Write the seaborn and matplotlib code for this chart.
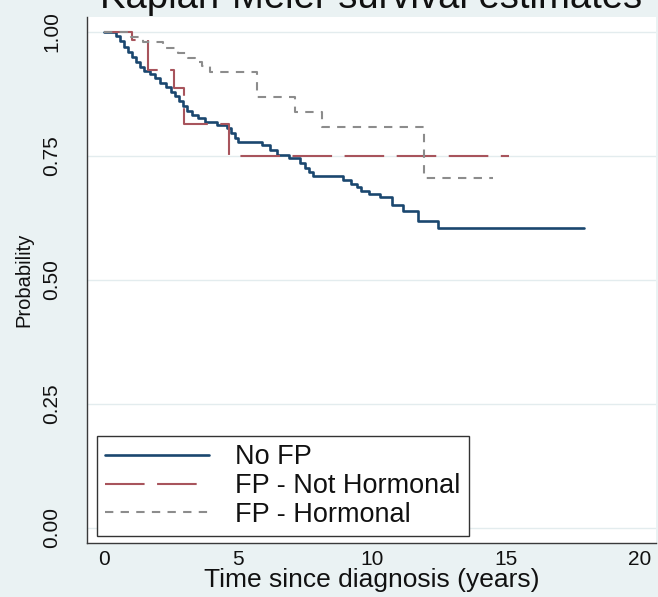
import matplotlib
matplotlib.use("Agg")
import matplotlib.pyplot as plt
import numpy as np
import pandas as pd
import seaborn as sns

# ---------------- data ----------------
groups = ["No FP", "FP - Not Hormonal", "FP - Hormonal"]

nofp_time = [0.0, 0.45, 0.6, 0.75, 0.9, 1.05, 1.2, 1.35, 1.5, 1.7, 1.9, 2.1, 2.3,
             2.5, 2.65, 2.8, 2.95, 3.1, 3.3, 3.5, 3.75, 4.2, 4.6, 4.75, 4.9, 5.0,
             5.9, 6.2, 6.45, 6.9, 7.3, 7.5, 7.65, 7.8, 8.9, 9.2, 9.45, 9.6, 9.9,
             10.3, 10.75, 11.15, 11.7, 12.45, 17.9]
nofp_surv = [1.0, 0.992, 0.982, 0.97, 0.96, 0.95, 0.94, 0.93, 0.921, 0.915, 0.907,
             0.898, 0.889, 0.88, 0.87, 0.86, 0.851, 0.841, 0.832, 0.826, 0.819,
             0.813, 0.807, 0.797, 0.787, 0.778, 0.772, 0.762, 0.753, 0.745, 0.736,
             0.726, 0.717, 0.71, 0.701, 0.694, 0.687, 0.68, 0.674, 0.668, 0.651,
             0.64, 0.618, 0.604, 0.604]

nothorm_time = [0.0, 1.05, 1.65, 2.6, 3.0, 4.65, 15.1]
nothorm_surv = [1.0, 0.984, 0.923, 0.888, 0.815, 0.75, 0.75]

horm_time = [0.0, 1.0, 1.45, 2.2, 2.75, 3.15, 3.4, 3.65, 3.95, 5.71, 7.13, 8.13,
             11.95, 14.5]
horm_surv = [1.0, 0.99, 0.979, 0.968, 0.958, 0.948, 0.94, 0.931, 0.919, 0.869,
             0.839, 0.808, 0.705, 0.705]

xticks = [0, 5, 10, 15, 20]
yticks = [0.0, 0.25, 0.50, 0.75, 1.00]
ytick_labels = ["0.00", "0.25", "0.50", "0.75", "1.00"]

title = "Kaplan-Meier survival estimates"
xlabel = "Time since diagnosis (years)"
ylabel = "Probability"

# ---------------- build table ----------------
df = pd.concat([
    pd.DataFrame({"time": nofp_time, "surv": nofp_surv, "group": groups[0]}),
    pd.DataFrame({"time": nothorm_time, "surv": nothorm_surv, "group": groups[1]}),
    pd.DataFrame({"time": horm_time, "surv": horm_surv, "group": groups[2]}),
], ignore_index=True)

# ---------------- style ----------------
sns.set_style("white")
plt.rcParams["font.family"] = ["Liberation Sans", "DejaVu Sans"]

BG = "#eaf2f3"
palette = {groups[0]: "#1a476f", groups[1]: "#a8545c", groups[2]: "#8c8c8c"}
dashes = {groups[0]: "", groups[1]: (19, 6), groups[2]: (4, 3.5)}
sizes = {groups[0]: 1.9, groups[1]: 1.5, groups[2]: 1.5}

fig = plt.figure(figsize=(6.58, 5.97), dpi=100, facecolor=BG)
W, H = 658, 597
ax = fig.add_axes([87 / W, (H - 543) / H, (656 - 87) / W, (543 - 17) / H])
ax.set_facecolor("white")

sns.lineplot(data=df, x="time", y="surv", hue="group", style="group", size="group",
             hue_order=groups, style_order=groups, size_order=groups,
             palette=palette, dashes=dashes, sizes=sizes,
             drawstyle="steps-post", estimator=None, sort=False, ax=ax)

# axis limits (data -> pixel mapping)
x0, xpx = 104, 26.8
ax.set_xlim((87 - x0) / xpx, (656 - x0) / xpx)
ax.set_ylim(1 - (543 - 32) / 496, 1 + (32 - 17) / 496)

ax.set_xticks(xticks)
ax.set_xticklabels([str(t) for t in xticks], fontsize=15)
ax.set_yticks(yticks)
ax.set_yticklabels(ytick_labels, fontsize=15, rotation=90, va="center")

ax.yaxis.grid(True, color="#e3ecee", lw=1.0)
ax.set_axisbelow(True)

for s in ["top", "right"]:
    ax.spines[s].set_visible(False)
for s in ["left", "bottom"]:
    ax.spines[s].set_color("#3a3a3a")
    ax.spines[s].set_linewidth(1.0)

ax.tick_params(axis="both", direction="out", width=1.0, color="#3a3a3a",
               labelcolor="#111111")
ax.tick_params(axis="y", length=6.5, pad=12)
ax.tick_params(axis="x", length=4.5, pad=0.5)

ax.set_xlabel(xlabel, fontsize=19, color="#111111")
ax.set_ylabel(ylabel, fontsize=14.5, color="#111111")
ax.xaxis.set_label_coords(0.5, -(568 - 543) / (543 - 17))
ax.yaxis.set_label_coords((33 - 87) / (656 - 87), 0.5)

fig.text(371 / W, 1 - 8 / H, title, ha="center", va="baseline", fontsize=27.5,
         color="#111111")

# legend
handles, labels = ax.get_legend_handles_labels()
ax.get_legend().remove()
leg = ax.legend(handles, labels, loc="lower left",
                bbox_to_anchor=(97 / W, (H - 536) / H), bbox_transform=fig.transFigure,
                borderaxespad=0, frameon=True, fancybox=False, framealpha=1,
                edgecolor="#333333", facecolor="white", fontsize=19.5,
                handlelength=3.85, handletextpad=0.95, borderpad=0.3,
                labelspacing=0.1)
leg.get_frame().set_linewidth(1.0)
for t in leg.get_texts():
    t.set_color("#111111")

fig.savefig("out.png", dpi=100, facecolor=BG)
